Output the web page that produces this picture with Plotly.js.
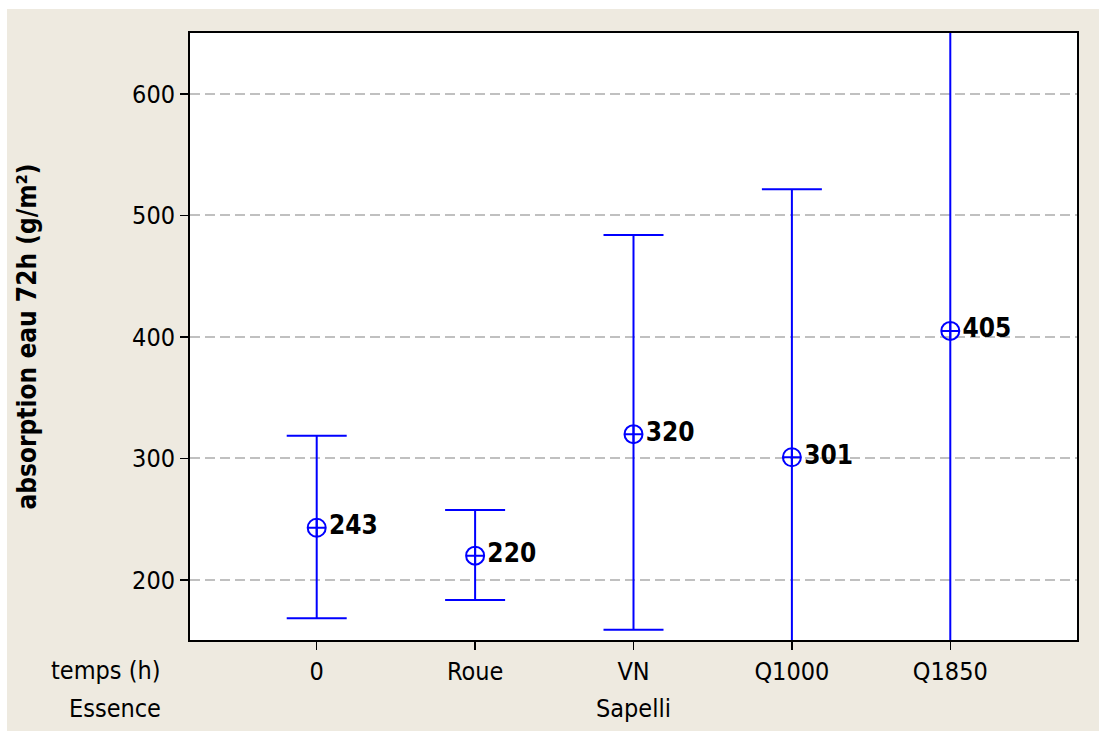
<!DOCTYPE html>
<html>
<head>
<meta charset="utf-8">
<script src="https://cdn.plot.ly/plotly-3.0.1.min.js"></script>
<style>
html,body{margin:0;padding:0;background:#ffffff;}
#chart{position:absolute;left:7px;top:9px;width:1092px;height:722px;}
</style>
</head>
<body>
<div id="chart"></div>
<script>
const categories = ["0", "Roue", "VN", "Q1000", "Q1850"];
const means = [243, 220, 320, 301, 405];
const upperCI = [318.7, 257.6, 484, 521.6, 735];
const lowerCI = [168.5, 183.5, 159, 80.4, 75];
const essence = "Sapelli";
const yTicks = [200, 300, 400, 500, 600];

const xs = categories.map((c, i) => i);
const errPlus = means.map((m, i) => upperCI[i] - m);
const errMinus = means.map((m, i) => m - lowerCI[i]);

const FONT = "DejaVu Sans Condensed, DejaVu Sans, sans-serif";

const trace = {
  type: "scatter",
  mode: "markers+text",
  x: xs,
  y: means,
  text: means.map(String),
  textposition: "middle right",
  textfont: {family: FONT, size: 26, color: "#000000", weight: "bold"},
  cliponaxis: false,
  marker: {symbol: "circle-cross-open", size: 18, color: "#0000ff", line: {width: 2, color: "#0000ff"}},
  error_y: {
    type: "data",
    symmetric: false,
    array: errPlus,
    arrayminus: errMinus,
    color: "#0000ff",
    thickness: 2,
    width: 30
  },
  hoverinfo: "none",
  showlegend: false
};

const layout = {
  width: 1092,
  height: 722,
  paper_bgcolor: "#eeeae0",
  plot_bgcolor: "#ffffff",
  margin: {l: 183, r: 22, t: 24, b: 91},
  font: {family: FONT, size: 25, color: "#000000"},
  xaxis: {
    range: [-0.8, 4.8],
    tickvals: xs,
    ticktext: categories,
    ticks: "outside",
    ticklen: 8,
    tickwidth: 1.5,
    tickcolor: "#000000",
    showgrid: false,
    zeroline: false,
    showline: true,
    linecolor: "#000000",
    linewidth: 2,
    mirror: true,
    tickfont: {family: FONT, size: 25}
  },
  yaxis: {
    range: [150.6, 650.2],
    tickvals: yTicks,
    ticks: "outside",
    ticklen: 8,
    tickwidth: 1.5,
    tickcolor: "#000000",
    showgrid: true,
    gridcolor: "#c0c0c0",
    gridwidth: 2,
    griddash: "10px,5px",
    zeroline: false,
    showline: true,
    linecolor: "#000000",
    linewidth: 2,
    mirror: true,
    tickfont: {family: FONT, size: 25},
    title: {text: "absorption eau 72h (g/m²)", font: {family: FONT, size: 26, weight: "bold"}, standoff: 88}
  },
  annotations: [
    {text: "temps (h)", xref: "paper", yref: "paper", x: -0.030, y: 0, xanchor: "right", yanchor: "top", yshift: -14, showarrow: false, font: {family: FONT, size: 25}},
    {text: "Essence", xref: "paper", yref: "paper", x: -0.030, y: 0, xanchor: "right", yanchor: "top", yshift: -52, showarrow: false, font: {family: FONT, size: 25}},
    {text: essence, xref: "x", yref: "paper", x: 2, y: 0, xanchor: "center", yanchor: "top", yshift: -52, showarrow: false, font: {family: FONT, size: 25}}
  ]
};

Plotly.newPlot("chart", [trace], layout, {displayModeBar: false, staticPlot: true});
</script>
</body>
</html>
